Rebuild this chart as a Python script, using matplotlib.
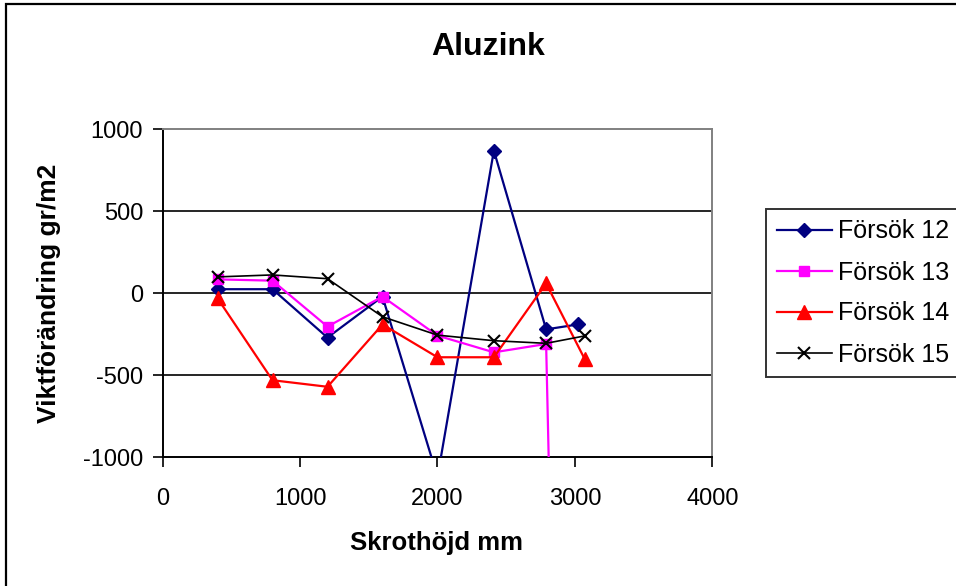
import matplotlib
matplotlib.use("Agg")
import matplotlib.pyplot as plt
from matplotlib.patches import Rectangle

plt.rcParams['font.family'] = ['Liberation Sans', 'DejaVu Sans']
plt.rcParams['axes.unicode_minus'] = False

# Skrothöjd (mm) and viktförändring (gr/m2) per försök
x12 = [400, 800, 1200, 1600, 2000, 2410, 2790, 3020]
y12 = [25, 25, -270, -20, -1120, 870, -220, -190]

x13 = [400, 800, 1200, 1600, 2000, 2410, 2790, 2830]
y13 = [85, 77, -203, -20, -258, -360, -309, -1800]

x14 = [400, 800, 1200, 1600, 2000, 2410, 2790, 3070]
y14 = [-30, -530, -570, -190, -390, -390, 60, -400]

x15 = [400, 800, 1200, 1600, 2000, 2410, 2790, 3070]
y15 = [100, 112, 89, -143, -255, -289, -305, -260]

labels = ['Försök 12', 'Försök 13', 'Försök 14', 'Försök 15']
x_ticks = [0, 1000, 2000, 3000, 4000]
y_ticks = [-1000, -500, 0, 500, 1000]

W, H = 956, 586
fig = plt.figure(figsize=(W / 100, H / 100), dpi=100)
fig.patch.set_facecolor('white')

# chart-area frame (runs off the right and bottom edges)
fig.patches.append(Rectangle((6.0 / W, -0.1), 1.2, 1.1 - 4.5 / H,
                             transform=fig.transFigure, fill=False,
                             edgecolor='black', linewidth=1.6, zorder=0))

ax = fig.add_axes([162.5 / W, 1 - 457.3 / H, 550 / W, 328 / H])
ax.set_xlim(0, 4000)
ax.set_ylim(-1000, 1000)
ax.set_xticks(x_ticks)
ax.set_yticks(y_ticks)
ax.tick_params(axis='both', direction='out', length=7, width=1.2,
               labelsize=17, color='black')
ax.tick_params(axis='y', pad=7)
ax.tick_params(axis='x', pad=15)

for s in ('left', 'bottom'):
    ax.spines[s].set_color('black')
    ax.spines[s].set_linewidth(1.4)
for s in ('top', 'right'):
    ax.spines[s].set_color('#808080')
    ax.spines[s].set_linewidth(1.4)

for yv in (-500, 0, 500):
    ax.axhline(yv, color='black', linewidth=1.2, zorder=1)

ax.plot(x12, y12, color='#000080', lw=1.6, marker='D', ms=7,
        mfc='#000080', mec='#000080', label=labels[0], zorder=3)
ax.plot(x13, y13, color='#FF00FF', lw=1.6, marker='s', ms=7,
        mfc='#FF00FF', mec='#FF00FF', label=labels[1], zorder=3)
ax.plot(x14, y14, color='#FF0000', lw=1.6, marker='^', ms=10,
        mfc='#FF0000', mec='#FF0000', label=labels[2], zorder=3)
ax.plot(x15, y15, color='black', lw=1.2, marker='x', ms=9, mew=1.5,
        label=labels[3], zorder=4)

fig.text(488 / W, 1 - 47 / H, 'Aluzink', fontsize=23, fontweight='bold',
         ha='center', va='center')
fig.text(437 / W, 1 - 543 / H, 'Skrothöjd mm', fontsize=18.5,
         fontweight='bold', ha='center', va='center')
fig.text(49 / W, 1 - 293 / H, 'Viktförändring gr/m2', fontsize=19,
         fontweight='bold', ha='center', va='center', rotation=90)

leg = ax.legend(loc='upper left', bbox_to_anchor=(766 / W, 1 - 209 / H),
                bbox_transform=fig.transFigure, fontsize=18, frameon=True,
                fancybox=False, shadow=False, borderpad=0.42,
                labelspacing=0.68, handlelength=2.2, handletextpad=0.25,
                borderaxespad=0)
leg.get_frame().set_edgecolor('black')
leg.get_frame().set_linewidth(1.4)

fig.savefig('out.png', dpi=100, facecolor='white')
